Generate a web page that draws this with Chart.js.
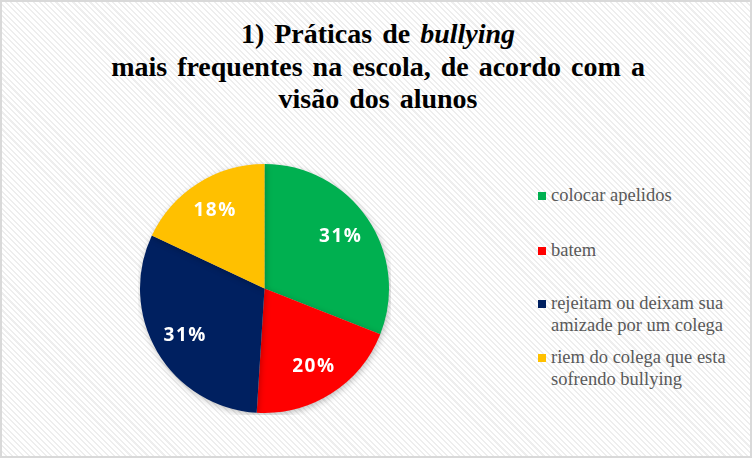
<!DOCTYPE html>
<html>
<head>
<meta charset="utf-8">
<script src="https://cdn.jsdelivr.net/npm/chart.js@4/dist/chart.umd.min.js"></script>
<style>
  html, body { margin: 0; padding: 0; }
  body { width: 752px; height: 458px; overflow: hidden; }
  #frame {
    position: absolute; left: 0; top: 0; width: 748px; height: 454px;
    border: 2px solid #d9d9d9;
    background: repeating-linear-gradient(45deg, #ffffff 0px, #ffffff 2.5px, #eeeeee 2.5px, #eeeeee 4px);
  }
  #title {
    position: absolute; left: 0; top: 18px; width: 756px; text-align: center;
    font-family: "Liberation Serif", "Times New Roman", serif; font-weight: bold; font-size: 28px;
    line-height: 32.5px; word-spacing: 3px; color: #000;
  }
  #pieBox { position: absolute; left: 138px; top: 162px; width: 253px; height: 253px; }
  #legend {
    position: absolute; left: 536px; top: 185px; width: 214px;
    font-family: "Liberation Serif", "Times New Roman", serif; font-size: 18.5px; line-height: 21.5px; color: #595959;
  }
  .item { position: absolute; left: 0; padding-left: 15px; white-space: nowrap; }
  .sw { position: absolute; left: 2px; top: 7px; width: 8px; height: 8px; }
</style>
</head>
<body>
<div id="frame"></div>
<div id="title">1) Práticas de <i>bullying</i><br>mais frequentes na escola, de acordo com a<br>visão dos alunos</div>
<div id="pieBox"><canvas id="pie"></canvas></div>
<div id="legend"></div>
<script>
const categories = ["colocar apelidos", "batem", "rejeitam ou deixam sua amizade por um colega", "riem do colega que esta sofrendo bullying"];
const legendLines = [["colocar apelidos"], ["batem"], ["rejeitam ou deixam sua", "amizade por um colega"], ["riem do colega que esta", "sofrendo bullying"]];
const percentages = [31, 20, 31, 18];
const colors = ["#00B050", "#FF0000", "#002060", "#FFC000"];
const legendTops = [0, 55, 108, 162];

// percentage labels inside the slices
const sliceLabels = {
  id: 'sliceLabels',
  afterDatasetsDraw(chart) {
    const ctx = chart.ctx;
    const meta = chart.getDatasetMeta(0);
    ctx.save();
    ctx.fillStyle = '#ffffff';
    ctx.font = 'bold 19px "Open Sans"';
    ctx.letterSpacing = '1.5px';
    ctx.textAlign = 'center';
    ctx.textBaseline = 'middle';
    meta.data.forEach((arc, i) => {
      const p = arc.getProps(['x', 'y', 'startAngle', 'endAngle', 'outerRadius'], true);
      const mid = (p.startAngle + p.endAngle) / 2;
      const r = p.outerRadius * 0.74;
      ctx.fillText(percentages[i] + '%', p.x + Math.cos(mid) * r, p.y + Math.sin(mid) * r);
    });
    ctx.restore();
  }
};

const shadow = {
  id: 'shadow',
  beforeDatasetsDraw(chart) {
    chart.ctx.save();
    chart.ctx.shadowColor = 'rgba(0,0,0,0.25)';
    chart.ctx.shadowBlur = 6;
    chart.ctx.shadowOffsetX = 1;
    chart.ctx.shadowOffsetY = 2;
  },
  afterDatasetsDraw(chart) {
    chart.ctx.restore();
  }
};

new Chart(document.getElementById('pie'), {
  type: 'pie',
  data: {
    labels: categories,
    datasets: [{
      data: percentages,
      backgroundColor: colors,
      borderWidth: 0
    }]
  },
  options: {
    responsive: true,
    maintainAspectRatio: false,
    animation: false,
    layout: { padding: 2 },
    plugins: {
      legend: { display: false },
      tooltip: { enabled: false },
      title: { display: false }
    }
  },
  plugins: [shadow, sliceLabels]
});

const legend = document.getElementById('legend');
legendLines.forEach((lines, i) => {
  const item = document.createElement('div');
  item.className = 'item';
  item.style.top = legendTops[i] + 'px';
  const sw = document.createElement('span');
  sw.className = 'sw';
  sw.style.background = colors[i];
  item.appendChild(sw);
  item.appendChild(document.createTextNode(lines[0]));
  for (let k = 1; k < lines.length; k++) {
    item.appendChild(document.createElement('br'));
    item.appendChild(document.createTextNode(lines[k]));
  }
  legend.appendChild(item);
});
</script>
</body>
</html>
